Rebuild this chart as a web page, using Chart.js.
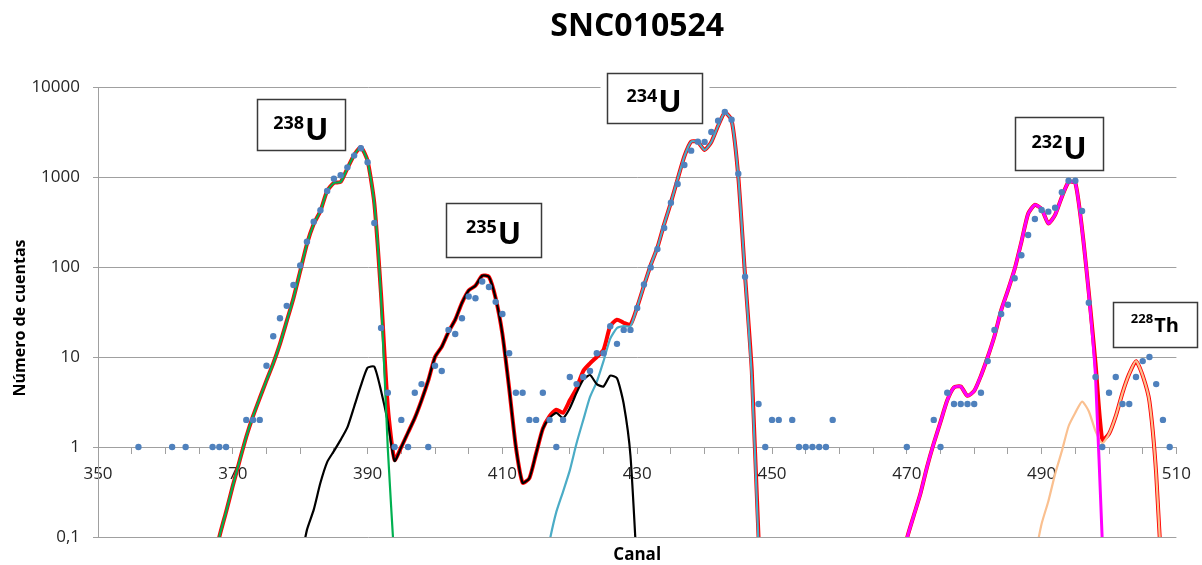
<!DOCTYPE html>
<html>
<head>
<meta charset="utf-8">
<script src="https://cdn.jsdelivr.net/npm/chart.js@4.4.1/dist/chart.umd.min.js"></script>
<style>
  html, body { margin: 0; padding: 0; background: #fff; }
  #wrap { width: 1202px; height: 565px; }
</style>
</head>
<body>
<div id="wrap"><canvas id="chart" width="1202" height="565"></canvas></div>
<script>
const chartTitle = 'SNC010524';
const xTitle = 'Canal';
const yTitle = 'Número de cuentas';

const xTickLabels = ['350', '370', '390', '410', '430', '450', '470', '490', '510'];
const yTickValues = [0.1, 1, 10, 100, 1000, 10000];
const yTickLabels = ['0,1', '1', '10', '100', '1000', '10000'];

// measured spectrum (blue dots)
const dataChannels = [
  356, 361, 363, 367, 368, 369, 372, 373, 374,
  375, 376, 377, 378, 379, 380, 381, 382, 383, 384, 385, 386, 387, 388, 389, 390,
  391, 392, 393, 394, 395, 396, 397, 398, 399, 400, 401, 402, 403, 404, 405, 406,
  407, 408, 409, 410, 411, 412, 413, 414, 415, 416, 417, 418, 419, 420, 421, 422,
  423, 424, 425, 426, 427, 428, 429, 430, 431, 432, 433, 434, 435, 436, 437, 438,
  439, 440, 441, 442, 443, 444, 445, 446,
  448, 449, 450, 451, 453, 454, 455, 456, 457, 458, 459,
  470, 474, 475, 476, 477, 478, 479, 480, 481, 482, 483, 484, 485, 486, 487, 488,
  489, 490, 491, 492, 493, 494, 495, 496, 497, 498, 499, 500, 501, 502, 503, 504,
  505, 506, 507, 508, 509
];
const dataCounts = [
  1, 1, 1, 1, 1, 1, 2, 2, 2,
  8, 17, 27, 37, 63, 104, 191, 318, 427, 699, 957, 1045, 1280, 1737, 2083, 1456,
  308, 21, 4, 1, 2, 1, 4, 5, 1, 8, 7, 20, 18, 27, 47, 45,
  69, 60, 41, 30, 11, 4, 4, 2, 2, 4, 2, 1, 2, 6, 5, 6,
  7, 11, 11, 22, 14, 20, 20, 35, 64, 99, 158, 271, 518, 836, 1360, 1963,
  2471, 2455, 3162, 4227, 5275, 4333, 1089, 78,
  3, 1, 2, 2, 2, 1, 1, 1, 1, 1, 2,
  1, 2, 1, 4, 3, 3, 3, 3, 4, 9, 20, 30, 38, 75, 135, 227,
  341, 430, 412, 456, 676, 910, 910, 419, 40, 6, 1, 4, 6, 3, 3, 6,
  9, 10, 5, 2, 1
];

// fitted curves, one value per channel from the start channel
const fit238Start = 367;
const fit238 = [0.04, 0.1, 0.19, 0.37, 0.7, 1.3, 2.2, 3.5, 5.5, 8.5, 14, 25, 45, 90, 180, 300,
  420, 700, 860, 880, 1250, 1750, 2150, 1500, 500, 45, 0.95, 0.05];

const fit235Start = 380;
const fit235 = [0.05, 0.12, 0.2, 0.4, 0.68, 0.9, 1.2, 1.65, 2.8, 4.8, 7.6, 7.8, 4.2, 1.9, 0.7,
  1.0, 1.45, 2.1, 3.3, 5.5, 10, 13, 19, 26, 40, 55, 62, 80, 78, 45, 18, 4.5, 1.0, 0.4, 0.45,
  0.85, 1.6, 2.1, 2.4, 2.1, 2.7, 4.0, 5.6, 6.3, 5.0, 4.7, 6.2, 5.8, 3.0, 0.8, 0.04];

const fit234Start = 416;
const fit234 = [0.035, 0.09, 0.19, 0.32, 0.55, 1.1, 2.0, 3.6, 5.3, 9, 16, 21, 22, 22, 36, 62,
  105, 165, 300, 520, 950, 1700, 2470, 2450, 2000, 2450, 3700, 5200, 4300, 1000, 80, 6, 0.08, 0.001];

const fit232Start = 469;
const fit232 = [0.04, 0.095, 0.17, 0.3, 0.6, 1.1, 1.9, 3.3, 4.6, 4.7, 3.7, 4.2, 6.2, 10, 17, 33,
  55, 95, 190, 390, 490, 440, 305, 380, 600, 880, 860, 260, 50, 6, 0.09, 0.003];

const fit228Start = 489;
const fit228 = [0.06, 0.14, 0.25, 0.5, 0.9, 1.7, 2.4, 3.2, 2.5, 1.5, 1.1, 1.4, 2.2, 4.0, 6.5,
  9.0, 6.2, 3.2, 0.5, 0.02];

// total fit (red), two pieces
const totalAStart = 367;
const totalA = [0.04, 0.1, 0.19, 0.37, 0.7, 1.3, 2.2, 3.5, 5.5, 8.5, 14, 25, 45, 90, 180, 300,
  420, 700, 860, 880, 1250, 1750, 2150, 1510, 508, 49, 2.8, 0.72,
  1.0, 1.45, 2.1, 3.3, 5.5, 10, 13, 19, 26, 40, 55, 62, 80, 78, 45, 18, 4.5, 1.0, 0.4, 0.45,
  0.85, 1.6, 2.2, 2.6, 2.4, 3.3, 4.5, 7.0, 8.5, 10, 12, 22, 26, 24, 23, 36, 62, 105, 165,
  300, 520, 950, 1700, 2470, 2450, 2000, 2450, 3700, 5200, 4300, 1000, 80, 7, 0.1, 0.01];
const totalBStart = 469;
const totalB = [0.04, 0.095, 0.17, 0.3, 0.6, 1.1, 1.9, 3.3, 4.6, 4.7, 3.7, 4.2, 6.2, 10, 17, 33,
  55, 95, 190, 390, 490, 440, 305, 380, 600, 880, 860, 265, 52, 8.5, 1.2, 1.4, 2.2, 4.0, 6.5,
  9.0, 6.2, 3.2, 0.5, 0.02];

const isotopeMass = ['238', '235', '234', '232', '228'];
const isotopeSymbol = ['U', 'U', 'U', 'U', 'Th'];

// label boxes: anchor in data units, size in px
const labelBoxes = [
  { ch: 380.1, cnt: 3800, w: 88, h: 51, sup: 18, main: 31, supDy: 4, mainDy: 15 },
  { ch: 408.7, cnt: 260, w: 95, h: 54, sup: 18, main: 31, supDy: 3, mainDy: 14 },
  { ch: 432.5, cnt: 7500, w: 95, h: 50, sup: 18, main: 31, supDy: 4, mainDy: 14 },
  { ch: 492.6, cnt: 2340, w: 88, h: 53, sup: 18, main: 31, supDy: 4, mainDy: 15 },
  { ch: 506.8, cnt: 23, w: 84, h: 45, sup: 13, main: 20, supDy: -1, mainDy: 8 }
];

const gridColor = '#a0a0a0';
const tickFont = { family: '"Open Sans", sans-serif', size: 17 };

function toPoints(start, values) {
  return values.map((v, i) => ({ x: start + i, y: v }));
}

const scatterPoints = dataChannels.map((c, i) => ({ x: c, y: dataCounts[i] }));
const totalPoints = toPoints(totalAStart, totalA)
  .concat([{ x: 460, y: null }])
  .concat(toPoints(totalBStart, totalB));

function lineSet(label, points, color, width, order) {
  return {
    label: label,
    data: points,
    borderColor: color,
    backgroundColor: color,
    borderWidth: width,
    pointRadius: 0,
    tension: 0.2,
    fill: false,
    order: order
  };
}

const overlay = {
  id: 'overlay',
  afterDraw(chart) {
    const { ctx, chartArea, scales } = chart;
    ctx.save();
    ctx.fillStyle = '#000';
    ctx.textBaseline = 'alphabetic';

    // chart title
    ctx.textAlign = 'center';
    ctx.font = 'bold 32px "Open Sans"';
    ctx.fillText(chartTitle, (chartArea.left + chartArea.right) / 2, 36);

    // axis titles
    ctx.font = 'bold 17px "Open Sans"';
    ctx.fillText(xTitle, (chartArea.left + chartArea.right) / 2, 560);
    ctx.save();
    ctx.translate(25, 318);
    ctx.rotate(-Math.PI / 2);
    ctx.font = 'bold 16px "Open Sans"';
    ctx.fillText(yTitle, 0, 0);
    ctx.restore();

    // isotope label boxes
    labelBoxes.forEach((b, i) => {
      const cx = scales.x.getPixelForValue(b.ch);
      const cy = scales.y.getPixelForValue(b.cnt);
      const left = Math.round(cx - b.w / 2) + 0.5;
      const top = Math.round(cy - b.h / 2) + 0.5;
      ctx.fillStyle = '#fff';
      ctx.fillRect(left - 7, top - 3, b.w + 14, b.h + 6);
      ctx.strokeStyle = '#3a3a3a';
      ctx.lineWidth = 1.5;
      ctx.strokeRect(left, top, b.w, b.h);

      ctx.fillStyle = '#000';
      ctx.textAlign = 'left';
      ctx.font = 'bold ' + b.sup + 'px "Open Sans"';
      const supW = ctx.measureText(isotopeMass[i]).width;
      ctx.font = 'bold ' + b.main + 'px "Open Sans"';
      const mainW = ctx.measureText(isotopeSymbol[i]).width;
      const startX = cx - (supW + mainW + 1) / 2;
      ctx.font = 'bold ' + b.sup + 'px "Open Sans"';
      ctx.fillText(isotopeMass[i], startX, cy + b.supDy);
      ctx.font = 'bold ' + b.main + 'px "Open Sans"';
      ctx.fillText(isotopeSymbol[i], startX + supW + 1, cy + b.mainDy);
    });
    ctx.restore();
  }
};

const ctx = document.getElementById('chart').getContext('2d');
new Chart(ctx, {
  type: 'line',
  data: {
    datasets: [
      {
        label: 'Datos',
        data: scatterPoints,
        showLine: false,
        pointRadius: 3.2,
        pointBorderWidth: 0,
        pointBackgroundColor: '#4F81BD',
        borderColor: '#4F81BD',
        order: 0
      },
      lineSet('238U', toPoints(fit238Start, fit238), '#00B050', 2.2, 1),
      lineSet('235U', toPoints(fit235Start, fit235), '#000000', 2.2, 1),
      lineSet('234U', toPoints(fit234Start, fit234), '#4BACC6', 2.2, 1),
      lineSet('232U', toPoints(fit232Start, fit232), '#FF00FF', 3, 1),
      lineSet('228Th', toPoints(fit228Start, fit228), '#FAC090', 2.2, 1),
      lineSet('Total', totalPoints, '#FF0000', 4, 2)
    ]
  },
  options: {
    responsive: false,
    animation: false,
    layout: { padding: { left: 0, top: 87, right: 24, bottom: 28 } },
    plugins: {
      legend: { display: false },
      tooltip: { enabled: false },
      title: { display: false }
    },
    scales: {
      x: {
        type: 'linear',
        min: 350,
        max: 510,
        position: { y: 1 },
        ticks: {
          stepSize: 5,
          autoSkip: false,
          maxRotation: 0,
          padding: 11,
          font: tickFont,
          color: '#262626',
          callback: v => (xTickLabels.includes(String(v)) ? String(v) : '')
        },
        grid: { drawOnChartArea: false, drawTicks: true, tickLength: 6, color: gridColor },
        border: { color: gridColor, width: 1 }
      },
      y: {
        type: 'logarithmic',
        min: 0.1,
        max: 10000,
        afterBuildTicks: scale => {
          scale.ticks = yTickValues.map(v => ({ value: v }));
        },
        afterFit: scale => { scale.width = 98; },
        ticks: {
          padding: 13,
          font: tickFont,
          color: '#262626',
          callback: v => {
            const i = yTickValues.indexOf(v);
            return i >= 0 ? yTickLabels[i] : '';
          }
        },
        grid: { color: gridColor, tickLength: 5 },
        border: { color: gridColor, width: 1 }
      }
    }
  },
  plugins: [overlay]
});
</script>
</body>
</html>
